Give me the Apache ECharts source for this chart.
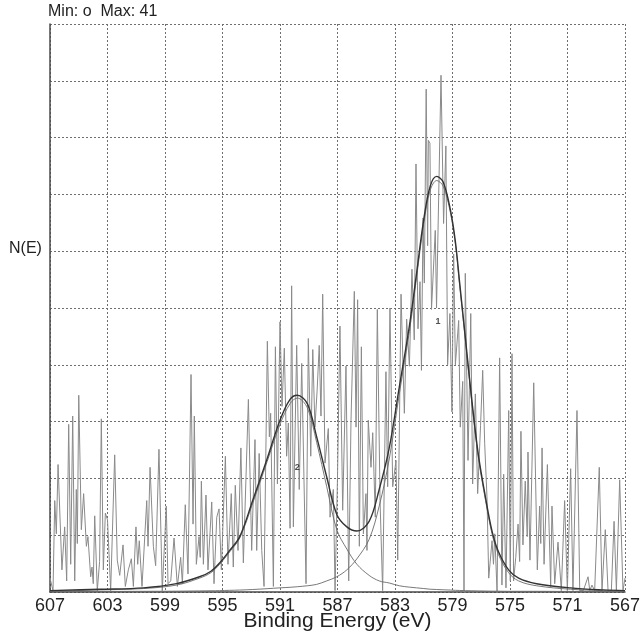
<!DOCTYPE html>
<html>
<head>
<meta charset="utf-8">
<title>N(E) vs Binding Energy</title>
<script src="https://cdn.jsdelivr.net/npm/echarts@6/dist/echarts.min.js"></script>
<style>
  html, body { margin: 0; padding: 0; background: #fff; }
  #chart { width: 643px; height: 634px; }
</style>
</head>
<body>
<div id="chart"></div>
<script>
// Raw spectrum: binding energy (eV) and counts
const bindingEnergy = [
  607.00, 606.79, 606.67, 606.56, 606.44, 606.17, 605.98, 605.84, 605.70, 605.56,
  605.42, 605.28, 605.17, 605.10, 605.00, 604.82, 604.66, 604.47, 604.36, 604.17,
  604.08, 603.99, 603.89, 603.71, 603.55, 603.43, 603.29, 603.15, 603.00, 602.78,
  602.50, 602.32, 602.15, 601.92, 601.76, 601.55, 601.34, 601.20, 601.02, 600.90,
  600.79, 600.60, 600.27, 600.18, 600.04, 599.81, 599.65, 599.42, 599.19, 598.91,
  598.79, 598.60, 598.37, 598.14, 597.91, 597.79, 597.59, 597.40, 597.19, 597.05,
  596.96, 596.82, 596.63, 596.55, 596.47, 596.33, 596.15, 596.01, 595.75, 595.59,
  595.40, 595.24, 595.08, 594.80, 594.62, 594.39, 594.25, 594.11, 593.92, 593.72,
  593.55, 593.20, 592.97, 592.74, 592.62, 592.45, 592.27, 592.11, 591.88, 591.74,
  591.65, 591.46, 591.32, 591.18, 591.00, 590.86, 590.70, 590.54, 590.42, 590.30,
  590.19, 590.07, 589.84, 589.66, 589.49, 589.19, 589.03, 588.86, 588.72, 588.57,
  588.42, 588.27, 588.15, 588.03, 587.87, 587.64, 587.52, 587.29, 587.17, 587.00,
  586.83, 586.64, 586.41, 586.22, 586.06, 585.83, 585.71, 585.60, 585.48, 585.34,
  585.20, 585.02, 584.95, 584.86, 584.67, 584.55, 584.37, 584.23, 584.04, 583.86,
  583.63, 583.51, 583.35, 583.16, 582.93, 582.81, 582.58, 582.35, 582.19, 582.00,
  581.82, 581.66, 581.54, 581.40, 581.26, 581.16, 581.05, 580.96, 580.83, 580.73,
  580.68, 580.57, 580.46, 580.20, 580.11, 579.80, 579.62, 579.46, 579.34, 579.18,
  579.04, 578.92, 578.80, 578.57, 578.46, 578.29, 578.20, 578.11, 577.92, 577.73,
  577.60, 577.41, 577.25, 577.05, 576.90, 576.76, 576.60, 576.48, 576.25, 576.15,
  576.06, 575.90, 575.72, 575.56, 575.44, 575.28, 575.09, 574.98, 574.86, 574.75,
  574.60, 574.44, 574.33, 574.24, 574.10, 573.94, 573.80, 573.75, 573.61, 573.35,
  573.10, 572.94, 572.86, 572.77, 572.63, 572.40, 572.17, 572.08, 571.89, 571.66,
  571.43, 571.20, 571.01, 570.78, 570.62, 570.34, 570.15, 569.90, 569.57, 569.45,
  569.30, 569.11, 568.79, 568.60, 568.37, 568.18, 567.95, 567.76, 567.60, 567.37,
  567.14, 567.00
];
const counts = [
  1.0, 0.1, 6.6, 4.2, 9.2, 1.6, 4.7, 0.8, 12.1, 2.0,
  12.7, 0.8, 7.4, 3.5, 14.2, 4.5, 7.1, 3.3, 4.0, 1.1,
  1.8, 0.6, 5.5, 0.1, 2.2, 12.5, 1.6, 5.7, 5.2, 0.1,
  9.9, 2.3, 1.2, 3.4, 0.4, 1.6, 2.4, 0.4, 4.7, 2.0,
  3.7, 0.4, 6.6, 3.3, 9.0, 3.3, 1.9, 10.3, 0.1, 6.2,
  0.6, 0.8, 3.9, 0.4, 2.5, 0.6, 6.3, 1.3, 15.7, 4.9,
  12.7, 2.0, 4.0, 2.5, 8.0, 2.0, 7.0, 1.6, 6.5, 0.6,
  5.4, 6.0, 1.6, 9.8, 2.0, 7.1, 1.8, 7.7, 3.0, 10.4,
  2.1, 13.9, 3.0, 11.0, 3.0, 10.0, 3.0, 0.4, 18.1, 11.2,
  12.9, 0.4, 17.7, 7.8, 19.5, 13.4, 17.6, 9.8, 12.2, 4.6,
  22.1, 4.7, 17.8, 7.4, 16.5, 0.6, 18.3, 9.8, 17.5, 11.9,
  14.5, 17.8, 12.7, 21.5, 9.3, 11.8, 5.4, 7.4, 0.1, 8.3,
  19.2, 5.9, 16.3, 0.8, 12.4, 21.7, 11.9, 21.1, 3.3, 17.7,
  4.2, 7.1, 3.0, 12.4, 9.0, 11.5, 5.4, 20.4, 6.6, 0.1,
  15.9, 7.6, 20.5, 7.6, 9.5, 2.3, 21.5, 12.9, 19.7, 16.3,
  23.3, 18.2, 30.9, 19.0, 22.4, 16.0, 27.0, 22.3, 36.3, 25.0,
  32.6, 32.4, 20.4, 26.1, 20.5, 37.3, 26.6, 32.2, 16.4, 20.1,
  13.0, 24.4, 16.4, 19.6, 11.9, 15.2, 0.0, 23.0, 9.5, 20.1,
  7.8, 14.3, 7.1, 12.0, 16.0, 10.7, 6.8, 1.0, 3.7, 2.0,
  4.2, 0.0, 16.9, 0.5, 8.5, 0.3, 13.1, 0.8, 17.2, 0.8,
  2.5, 4.9, 2.2, 11.6, 3.4, 8.0, 4.0, 10.1, 2.3, 15.1,
  1.6, 6.2, 3.5, 10.4, 2.0, 9.2, 0.4, 6.2, 0.6, 3.6,
  0.1, 6.6, 0.1, 8.9, 0.1, 13.1, 0.1, 0.1, 1.1, 0.1,
  0.5, 0.1, 9.0, 0.1, 4.5, 0.1, 0.1, 5.1, 0.1, 8.1,
  0.1, 1.0
];

// Fitted curves sampled on a common energy grid
const fitEnergy = [
  607.0, 603.5, 600.5, 598.2, 596.6, 595.8, 595.2, 594.5, 593.8, 592.9,
  591.9, 591.0, 590.3, 589.8, 589.1, 588.45, 587.75, 587.05, 586.35, 585.65,
  584.8, 584.1, 583.4, 582.7, 582.0, 581.5, 581.0, 580.55, 580.1, 579.65,
  579.15, 578.8, 578.5, 578.1, 577.65, 577.2, 576.7, 576.25, 575.8, 575.1,
  574.4, 573.15, 570.8, 568.5, 567.0
];
const envelope = [
  0.1, 0.2, 0.3, 0.6, 1.1, 1.5, 2.1, 3.0, 4.0, 6.6,
  9.6, 12.4, 13.9, 14.2, 13.6, 11.2, 8.3, 5.6, 4.7, 4.4,
  5.1, 7.4, 10.4, 14.8, 19.2, 23.0, 26.9, 29.3, 30.0, 29.6,
  27.6, 25.3, 22.3, 18.3, 13.8, 9.9, 6.8, 4.4, 2.9, 1.6,
  1.0, 0.6, 0.3, 0.15, 0.1
];
const peak1 = [
  0.03, 0.04, 0.05, 0.06, 0.08, 0.09, 0.1, 0.12, 0.14, 0.18,
  0.24, 0.3, 0.34, 0.38, 0.45, 0.55, 0.8, 1.1, 1.6, 2.4,
  3.8, 6.2, 9.6, 14.3, 18.8, 22.7, 26.6, 29.0, 29.7, 29.3,
  27.4, 25.1, 22.1, 18.1, 13.6, 9.7, 6.6, 4.2, 2.7, 1.4,
  0.8, 0.45, 0.2, 0.1, 0.07
];
const peak2 = [
  0.05, 0.15, 0.25, 0.5, 1.0, 1.4, 2.0, 2.9, 3.9, 6.4,
  9.4, 12.1, 13.6, 14.0, 13.3, 10.8, 7.6, 4.5, 3.1, 2.0,
  1.2, 0.8, 0.65, 0.45, 0.35, 0.3, 0.25, 0.2, 0.18, 0.16,
  0.14, 0.12, 0.11, 0.1, 0.09, 0.08, 0.07, 0.06, 0.06, 0.05,
  0.05, 0.05, 0.04, 0.04, 0.04
];

// Peak numbers written beside each fitted component
const peakTagEnergy = [580.0, 589.8];
const peakTagCount = [19.5, 9.0];
const peakTagText = ['1', '2'];

const xTicks = { min: 567, max: 607, step: 4 };
const yRange = { min: 0, max: 41, step: 4.1 };

const zip = (xs, ys) => xs.map((x, i) => [x, ys[i]]);

const FONT = '"Liberation Sans", Arial, Helvetica, sans-serif';
const gridDots = { color: '#6e6e6e', type: [2, 2], width: 1 };

const chart = echarts.init(document.getElementById('chart'), null, { renderer: 'canvas' });

chart.setOption({
  animation: false,
  backgroundColor: '#ffffff',
  textStyle: { fontFamily: FONT },
  grid: { left: 50, right: 18, top: 24, bottom: 42, containLabel: false, outerBoundsMode: 'none' },
  xAxis: {
    type: 'value',
    inverse: true,
    min: xTicks.min,
    max: xTicks.max,
    interval: xTicks.step,
    axisLine: { show: true, onZero: false, lineStyle: { color: '#4a4a4a', width: 1.5 } },
    axisTick: { show: false },
    axisLabel: { color: '#222', fontSize: 18, fontFamily: FONT, margin: 5, showMinLabel: true, showMaxLabel: true },
    splitLine: { show: true, lineStyle: gridDots },
    name: 'Binding Energy (eV)',
    nameLocation: 'middle',
    nameGap: 19,
    nameMoveOverlap: false,
    nameTextStyle: { color: '#222', fontSize: 21, fontFamily: FONT, verticalAlign: 'top' }
  },
  yAxis: {
    type: 'value',
    min: yRange.min,
    max: yRange.max,
    interval: yRange.step,
    axisLine: { show: true, onZero: false, lineStyle: { color: '#4a4a4a', width: 1.5 } },
    axisTick: { show: false },
    axisLabel: { show: false },
    splitLine: { show: true, lineStyle: gridDots }
  },
  graphic: [
    { type: 'text', left: 48, top: 4, style: { text: 'Min: o  Max: 41', fill: '#222', font: '16px ' + FONT } },
    { type: 'text', left: 9, top: 241, style: { text: 'N(E)', fill: '#222', font: '16px ' + FONT } }
  ],
  series: [
    {
      name: 'spectrum',
      type: 'line',
      data: zip(bindingEnergy, counts),
      showSymbol: false,
      symbol: 'none',
      lineStyle: { color: '#8a8a8a', width: 1 },
      z: 2
    },
    {
      name: 'peak 2',
      type: 'line',
      data: zip(fitEnergy, peak2),
      smooth: 0.35,
      symbol: 'none',
      lineStyle: { color: '#6a6a6a', width: 0.9 },
      z: 3
    },
    {
      name: 'peak 1',
      type: 'line',
      data: zip(fitEnergy, peak1),
      smooth: 0.35,
      symbol: 'none',
      lineStyle: { color: '#6a6a6a', width: 0.9 },
      z: 3
    },
    {
      name: 'envelope',
      type: 'line',
      data: zip(fitEnergy, envelope),
      smooth: 0.35,
      symbol: 'none',
      lineStyle: { color: '#333', width: 1.4 },
      z: 4
    },
    {
      name: 'tags',
      type: 'scatter',
      data: peakTagEnergy.map((e, i) => [e, peakTagCount[i], peakTagText[i]]),
      symbolSize: 0,
      label: {
        show: true,
        position: 'inside',
        formatter: p => p.data[2],
        color: '#222',
        fontSize: 9,
        fontWeight: 'bold',
        fontFamily: FONT
      },
      z: 5
    }
  ]
});
</script>
</body>
</html>
